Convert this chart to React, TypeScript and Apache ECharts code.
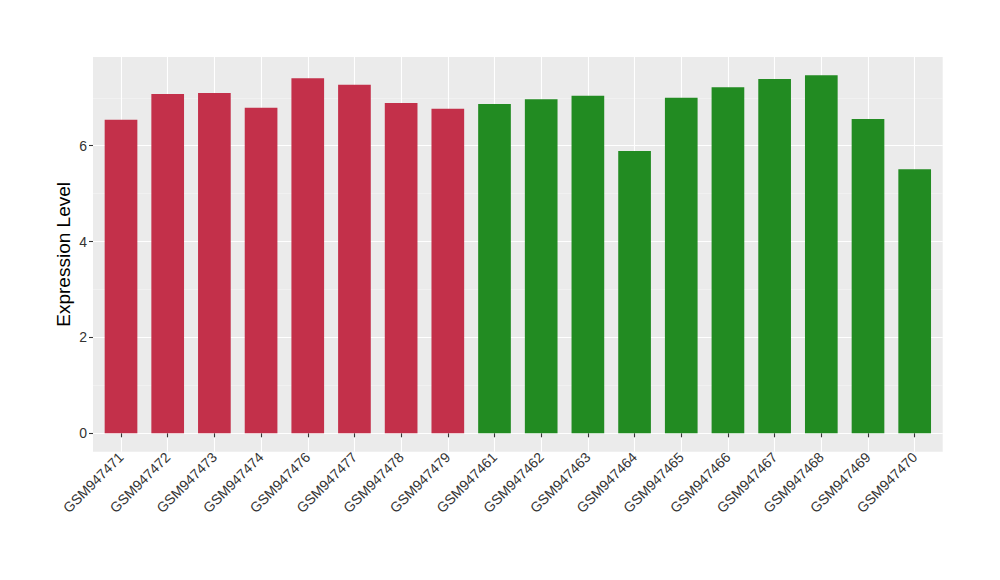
import React, { useEffect, useRef } from "react";
import * as echarts from "echarts";

const categories = [
  "GSM947471", "GSM947472", "GSM947473", "GSM947474", "GSM947476", "GSM947477",
  "GSM947478", "GSM947479", "GSM947461", "GSM947462", "GSM947463", "GSM947464",
  "GSM947465", "GSM947466", "GSM947467", "GSM947468", "GSM947469", "GSM947470",
];
const values = [
  6.54, 7.08, 7.10, 6.79, 7.41, 7.27, 6.89, 6.77, 6.87, 6.97, 7.04, 5.89,
  7.00, 7.22, 7.39, 7.47, 6.56, 5.51,
];
const groups = [
  "a", "a", "a", "a", "a", "a", "a", "a",
  "b", "b", "b", "b", "b", "b", "b", "b", "b", "b",
];
const groupColors: Record<string, string> = { a: "#C3304A", b: "#228B22" };
const yTicks = [0, 2, 4, 6];
const yTitle = "Expression Level";

// layout (px)
const PANEL_L = 93;
const PANEL_R = 942.7;
const PANEL_T = 57;
const PANEL_B = 451.7;
const ZERO_Y = 433.3;
const PX_PER_UNIT = 47.93;
const N = categories.length;
const UNIT_X = (PANEL_R - PANEL_L) / (N - 1 + 1.2);

export default function App() {
  const ref = useRef<HTMLDivElement>(null);
  useEffect(() => {
    if (!ref.current) return;
    const chart = echarts.init(ref.current, null, { renderer: "svg" });
    const font = "Liberation Sans, Arial, Helvetica, sans-serif";
    const yMinC = -(PANEL_B - ZERO_Y) / PX_PER_UNIT;
    const yMaxC = (ZERO_Y - PANEL_T) / PX_PER_UNIT;
    const topB = ZERO_Y - 8 * PX_PER_UNIT;
    chart.setOption({
      animation: false,
      backgroundColor: "#FFFFFF",
      grid: [
        {
          left: PANEL_L, top: PANEL_T, width: PANEL_R - PANEL_L, height: PANEL_B - PANEL_T,
          show: true, backgroundColor: "#EBEBEB", borderWidth: 0,
        },
        {
          left: PANEL_L, top: topB, width: PANEL_R - PANEL_L, height: ZERO_Y - topB,
          show: false,
        },
        {
          left: PANEL_L + 0.6 * UNIT_X, top: PANEL_T, width: (N - 1) * UNIT_X, height: PANEL_B - PANEL_T,
          show: false,
        },
      ],
      xAxis: [
        { gridIndex: 0, type: "value", show: false, min: 0, max: 1 },
        { gridIndex: 1, type: "value", show: false, min: 0, max: 1 },
        {
          gridIndex: 2,
          type: "category",
          data: categories,
          boundaryGap: false,
          axisLine: { show: false },
          axisTick: { show: true, length: 4, lineStyle: { color: "#333333", width: 1.1 } },
          axisLabel: {
            interval: 0, rotate: 45, fontSize: 14, color: "#333333", fontFamily: font, margin: 3,
            padding: [12, 0, 0, 0],
          },
          splitLine: { show: true, lineStyle: { color: "#FFFFFF", width: 1.1 } },
        },
      ],
      yAxis: [
        {
          gridIndex: 0, type: "value", min: 0, max: 1,
          name: yTitle,
          nameLocation: "middle",
          nameGap: 20,
          nameTextStyle: { fontSize: 19, color: "#000000", fontFamily: font },
          axisLine: { show: false },
          axisTick: { show: false },
          axisLabel: { show: false },
          splitLine: { show: false },
        },
        {
          gridIndex: 1,
          type: "value",
          min: 0,
          max: 8,
          interval: 2,
          axisLine: { show: false },
          axisTick: { show: true, length: 4, lineStyle: { color: "#333333", width: 1.1 }, customValues: yTicks },
          axisLabel: {
            fontSize: 14, color: "#333333", fontFamily: font, margin: 6, customValues: yTicks,
            formatter: (v: number) => (yTicks.includes(v) ? String(v) : ""),
          },
          splitLine: { show: true, lineStyle: { color: "#FFFFFF", width: 1.1 } },
          minorTick: { show: false, splitNumber: 2 },
          minorSplitLine: { show: true, lineStyle: { color: "#F5F5F5", width: 0.6 } },
        },
        {
          gridIndex: 2, type: "value", show: false, min: yMinC, max: yMaxC,
          splitLine: { show: false },
        },
      ],
      series: [
        {
          type: "bar",
          xAxisIndex: 2,
          yAxisIndex: 2,
          barWidth: "70%",
          clip: false,
          data: values.map((v, i) => ({ value: v, itemStyle: { color: groupColors[groups[i]] } })),
        },
      ],
    });
    return () => chart.dispose();
  }, []);
  return (
    <div
      ref={ref}
      style={{ position: "fixed", left: 0, top: 0, width: 1000, height: 580 }}
    />
  );
}
